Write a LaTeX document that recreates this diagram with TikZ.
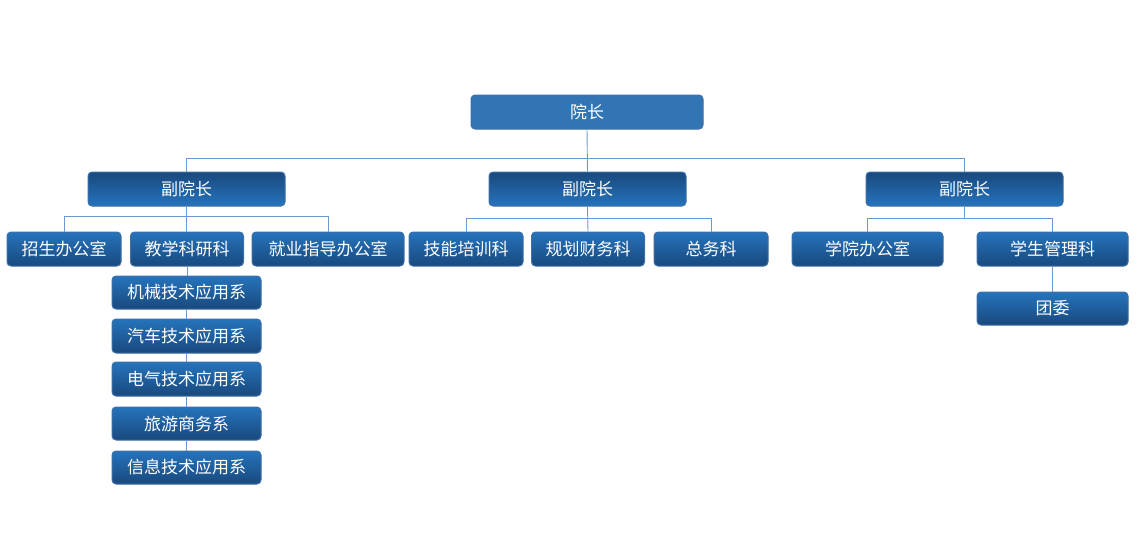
\documentclass[tikz,border=0pt]{standalone}
\usepackage{fontspec}
\setmainfont{Noto Sans CJK SC}
\definecolor{lineC}{HTML}{6A9BD0}
\definecolor{edgeC}{HTML}{3E6FA6}
\definecolor{topC}{HTML}{3175B5}
\definecolor{darkC}{HTML}{19497D}
\definecolor{lightC}{HTML}{2673BC}
\tikzset{
  base/.style={draw=edgeC, line width=1pt, rounded corners=4pt, text=white,
    font=\fontsize{17}{17}\selectfont, inner sep=0pt, anchor=center},
  topbox/.style={base, fill=topC, minimum width=232pt, minimum height=34pt},
  vicebox/.style={base, top color=darkC, bottom color=lightC, minimum width=197pt, minimum height=34pt},
  deptbox/.style={base, top color=lightC, bottom color=darkC, minimum height=34pt},
  conn/.style={draw=lineC, line width=0.9pt}
}
\begin{document}
\begin{tikzpicture}[x=1pt,y=-1pt]
\useasboundingbox (0,0) rectangle (1142,536);
% level 1
\node[topbox] (dean) at (587,112) {院长};
% level 2
\node[vicebox] (v1) at (186.5,189) {副院长};
\node[vicebox] (v2) at (587.5,189) {副院长};
\node[vicebox] (v3) at (964.5,189) {副院长};
% level 3 left
\node[deptbox, minimum width=114pt] (a1) at (64,249) {招生办公室};
\node[deptbox, minimum width=113pt] (a2) at (187,249) {教学科研科};
\node[deptbox, minimum width=152pt] (a3) at (328,249) {就业指导办公室};
% level 3 middle
\node[deptbox, minimum width=114pt] (b1) at (466,249) {技能培训科};
\node[deptbox, minimum width=113pt] (b2) at (588,249) {规划财务科};
\node[deptbox, minimum width=114pt] (b3) at (711,249) {总务科};
% level 3 right
\node[deptbox, minimum width=151pt] (c1) at (867.5,249) {学院办公室};
\node[deptbox, minimum width=151pt] (c2) at (1052.5,249) {学生管理科};
\node[deptbox, minimum width=151pt, minimum height=33pt] (c3) at (1052.5,308.5) {团委};
% sub list
\node[deptbox, minimum width=149pt, minimum height=33pt] (s1) at (186.5,292.5) {机械技术应用系};
\node[deptbox, minimum width=149pt] (s2) at (186.5,336) {汽车技术应用系};
\node[deptbox, minimum width=149pt] (s3) at (186.5,379) {电气技术应用系};
\node[deptbox, minimum width=149pt, minimum height=33pt] (s4) at (186.5,423.5) {旅游商务系};
\node[deptbox, minimum width=149pt, minimum height=33pt] (s5) at (186.5,467.5) {信息技术应用系};
% connectors
\draw[conn] (dean.south) -- (v2.north);
\draw[conn] (v1.north) -- ++(0,-13) -| (v3.north);
\draw[conn] (a1.north) -- ++(0,-15) -| (a3.north);
\draw[conn] (v1.south) -- (v1.south |- a2.north);
\draw[conn] (b1.north) -- ++(0,-13) -| (b3.north);
\draw[conn] (v2.south) -- (b2.north);
\draw[conn] (c1.north) -- ++(0,-13) coordinate (cb) -| (c2.north);
\draw[conn] (v3.south) -- (v3.south |- cb);
\draw[conn] (c2.south) -- (c3.north);
\draw[conn] (a2.south) -- (a2.south |- s1.north);
\draw[conn] (s1.south) -- (s2.north);
\draw[conn] (s2.south) -- (s3.north);
\draw[conn] (s3.south) -- (s4.north);
\draw[conn] (s4.south) -- (s5.north);
\end{tikzpicture}
\end{document}
